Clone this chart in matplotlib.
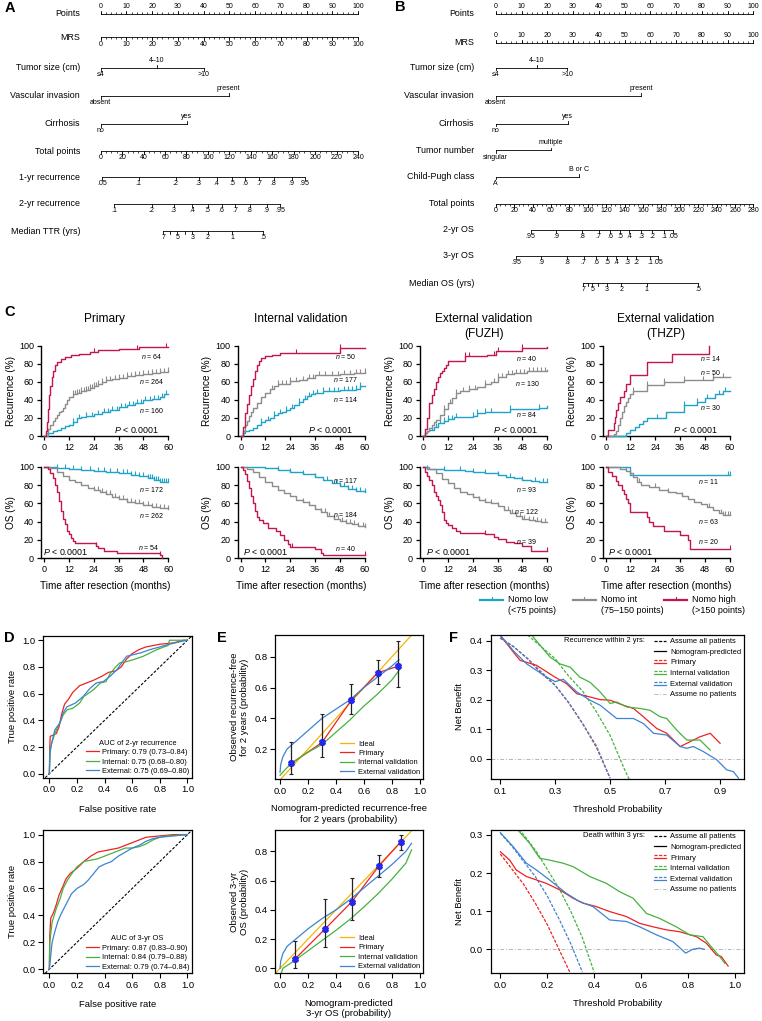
import numpy as np
import matplotlib
matplotlib.use("Agg")
import matplotlib.pyplot as plt
from matplotlib.lines import Line2D
from matplotlib.legend_handler import HandlerBase

plt.rcParams["font.family"] = ["Liberation Sans", "DejaVu Sans"]
plt.rcParams["mathtext.fontset"] = "custom"
plt.rcParams["mathtext.it"] = "Liberation Sans:italic"
plt.rcParams["mathtext.rm"] = "Liberation Sans"
plt.rcParams["axes.linewidth"] = 0.8

# ---------------- nomogram data ----------------
POINTS_TICKS = list(range(0, 101, 10))
TUMOR_LAB = ["≤4", "4–10", ">10"]
VASC_LAB = ["absent", "present"]
CIRR_LAB = ["no", "yes"]
NUM_LAB = ["singular", "multiple"]
CP_LAB = ["A", "B or C"]

A_TUMOR_POS = [0, 21.8, 40.1]
A_VASC_POS = [0, 49.7]
A_CIRR_POS = [0, 33.5]
A_TOTAL = list(range(0, 241, 20))
A_REC1_POS = [1.5, 35.3, 69.8, 91.5, 108.2, 122.4, 134.9, 147.9, 161.2, 178.2, 190.3]
A_REC1_LAB = [".05", ".1", ".2", ".3", ".4", ".5", ".6", ".7", ".8", ".9", ".95"]
A_REC2_POS = [12.4, 47.4, 68.2, 85.2, 99.8, 112.8, 125.6, 138.9, 154.7, 167.4]
A_REC2_LAB = [".1", ".2", ".3", ".4", ".5", ".6", ".7", ".8", ".9", ".95"]
A_TTR_POS = [58.3, 64.8, 71.6, 78.5, 85.6, 99.8, 122.4, 151.6]
A_TTR_LAB = ["7", "", "5", "", "3", "2", "1", ".5"]

B_TUMOR_POS = [0, 15.9, 27.8]
B_VASC_POS = [0, 56.4]
B_CIRR_POS = [0, 27.9]
B_NUM_POS = [0, 21.3]
B_CP_POS = [0, 32.3]
B_TOTAL = list(range(0, 281, 20))
B_OS2_POS = [38, 65.5, 94.2, 111.9, 124.6, 135.4, 145.3, 157.9, 169.6, 182.6, 193]
B_OS3_POS = [22, 49.3, 77.8, 95.6, 109.4, 121, 131.1, 142.7, 152.8, 167.4, 176.4]
B_OS_LAB = [".95", ".9", ".8", ".7", ".6", ".5", ".4", ".3", ".2", ".1", ".05"]
B_MOS_POS = [95.2, 100.3, 105, 111.5, 120.6, 136.5, 164.1, 220.2]
B_MOS_LAB = ["7", "", "5", "", "3", "2", "1", ".5"]

# ---------------- Kaplan-Meier data (month, %) ----------------
PRI_REC_LOW = [(0, 0), (2, 3), (4, 5), (6, 7), (8, 9), (10, 11), (12, 12), (14, 15), (16, 20), (18, 21),
               (20, 22), (24, 24), (28, 27), (32, 29), (36, 32), (40, 34), (44, 37), (48, 40), (52, 41),
               (56, 43), (58, 46), (60, 46)]
PRI_REC_MID = [(0, 0), (1, 3), (2, 8), (3, 12), (4, 17), (5, 20), (6, 23), (7, 26), (8, 28), (9, 31),
               (10, 35), (11, 40), (12, 43), (14, 46), (16, 48), (18, 50), (20, 51), (22, 53), (24, 55),
               (26, 57), (28, 60), (30, 62), (33, 63), (36, 64), (40, 66), (44, 67), (48, 69), (52, 70),
               (56, 71), (60, 72)]
PRI_REC_HIGH = [(0, 0), (1, 5), (1.5, 15), (2, 30), (2.5, 45), (3, 55), (3.5, 65), (4, 72), (5, 78),
                (6, 82), (8, 85), (10, 87), (13, 89), (17, 91), (22, 93), (26, 95), (36, 96), (46, 98),
                (60, 98)]
PRI_OS_LOW = [(0, 100), (6, 99), (12, 98), (18, 97), (24, 96), (30, 95), (36, 93), (42, 91), (46, 90),
              (50, 88), (53, 86), (56, 84), (60, 83)]
PRI_OS_MID = [(0, 100), (3, 99), (6, 95), (9, 90), (12, 86), (15, 83), (18, 80), (21, 77), (24, 75),
              (27, 72), (30, 70), (33, 67), (36, 65), (40, 62), (44, 60), (48, 58), (52, 56), (56, 55),
              (60, 54)]
PRI_OS_HIGH = [(0, 100), (2, 98), (3, 93), (4, 88), (5, 80), (6, 72), (7, 63), (8, 52), (9, 43), (10, 37),
               (11, 30), (12, 26), (13, 22), (14, 19), (15, 17), (25, 13), (26, 11), (29, 8), (35, 5),
               (56, 3), (57, 0)]

INT_REC_LOW = [(0, 0), (1, 3), (2, 5), (4, 7), (6, 9), (8, 12), (10, 15), (12, 18), (14, 20), (16, 23),
               (18, 25), (20, 27), (22, 29), (24, 31), (26, 34), (28, 38), (30, 41), (32, 44), (34, 46),
               (36, 48), (40, 50), (48, 51), (56, 52), (58, 55), (60, 55)]
INT_REC_MID = [(0, 0), (1, 5), (2, 12), (3, 17), (4, 22), (5, 27), (6, 31), (8, 37), (10, 43), (12, 47),
               (14, 52), (16, 55), (18, 57), (20, 58), (24, 61), (28, 62), (32, 64), (36, 67), (42, 67),
               (48, 68), (55, 70), (60, 71)]
INT_REC_HIGH = [(0, 0), (1, 10), (2, 25), (3, 35), (4, 45), (5, 55), (6, 63), (7, 72), (8, 78), (9, 83),
                (10, 86), (12, 88), (15, 90), (19, 92), (48, 97), (60, 97)]
INT_OS_LOW = [(0, 100), (12, 99), (18, 97), (24, 95), (30, 92), (36, 89), (40, 86), (44, 82), (48, 79),
              (52, 76), (56, 74), (60, 72)]
INT_OS_MID = [(0, 100), (3, 98), (6, 95), (9, 89), (12, 84), (15, 79), (18, 75), (21, 71), (24, 68),
              (27, 64), (30, 61), (33, 58), (36, 54), (39, 50), (42, 46), (45, 43), (48, 41), (51, 39),
              (54, 37), (57, 35), (60, 34)]
INT_OS_HIGH = [(0, 100), (1, 97), (2, 92), (3, 85), (4, 77), (5, 68), (6, 60), (7, 52), (8, 45), (9, 42),
               (11, 38), (13, 33), (17, 30), (19, 25), (21, 20), (23, 15), (24, 12), (36, 10), (39, 6),
               (40, 3), (60, 3)]

FUZH_REC_LOW = [(0, 0), (1, 3), (2, 5), (3, 7), (5, 10), (7, 14), (10, 17), (12, 19), (15, 21), (24, 22),
                (26, 25), (30, 27), (42, 30), (56, 31), (60, 33)]
FUZH_REC_MID = [(0, 0), (1, 3), (2, 6), (3, 9), (4, 12), (5, 15), (6, 18), (8, 23), (10, 30), (12, 36),
                (14, 42), (16, 47), (18, 50), (22, 52), (26, 54), (30, 57), (33, 60), (36, 65), (40, 68),
                (44, 70), (50, 72), (60, 73)]
FUZH_REC_HIGH = [(0, 0), (1, 8), (2, 20), (3, 37), (4, 45), (5, 52), (6, 60), (7, 65), (8, 70), (9, 72),
                 (10, 75), (11, 78), (12, 83), (20, 88), (31, 90), (35, 94), (48, 97), (60, 98)]
FUZH_OS_LOW = [(0, 100), (2, 98), (10, 97), (20, 96), (24, 95), (30, 93), (36, 91), (40, 89), (44, 88),
               (48, 86), (52, 85), (56, 84), (60, 83)]
FUZH_OS_MID = [(0, 100), (3, 98), (6, 93), (9, 87), (12, 82), (15, 77), (18, 73), (21, 70), (24, 67),
               (27, 64), (30, 62), (33, 60), (36, 57), (39, 53), (42, 49), (45, 46), (48, 43), (51, 42),
               (54, 41), (57, 40), (60, 40)]
FUZH_OS_HIGH = [(0, 100), (1, 95), (2, 90), (3, 86), (4, 80), (5, 72), (6, 68), (7, 64), (8, 58), (9, 50),
                (10, 42), (11, 39), (12, 36), (14, 33), (16, 30), (18, 28), (30, 26), (34, 23), (36, 21),
                (40, 18), (44, 16), (48, 13), (52, 8), (60, 8)]

THZP_REC_LOW = [(0, 0), (10, 3), (12, 7), (14, 10), (16, 13), (18, 17), (20, 20), (29, 27), (38, 34),
                (44, 38), (48, 42), (53, 46), (57, 50), (60, 50)]
THZP_REC_MID = [(0, 0), (4, 2), (5, 6), (6, 12), (7, 20), (8, 27), (9, 33), (10, 38), (11, 42), (12, 46),
                (13, 50), (20, 56), (28, 60), (38, 62), (52, 65), (60, 65)]
THZP_REC_HIGH = [(0, 0), (1, 7), (4, 14), (4.5, 21), (5, 29), (6, 36), (7, 43), (9, 50), (10, 57),
                 (12, 67), (20, 82), (32, 91), (50, 100)]
THZP_OS_LOW = [(0, 100), (12, 91), (60, 91)]
THZP_OS_MID = [(0, 100), (7, 98), (10, 96), (12, 93), (13, 89), (15, 84), (17, 80), (21, 78), (26, 75),
               (30, 73), (34, 71), (37, 68), (40, 65), (43, 62), (46, 59), (49, 56), (52, 53), (55, 49),
               (57, 47), (60, 47)]
THZP_OS_HIGH = [(0, 100), (1, 95), (3, 90), (5, 85), (6, 80), (8, 75), (9, 70), (10, 65), (11, 60),
                (12, 50), (20, 45), (21, 40), (23, 35), (28, 30), (36, 25), (40, 20), (41, 10), (60, 10)]

# censored times (months)
PRI_REC_CENS = ([14, 17, 20, 23, 26, 29, 31, 33, 35, 37, 39, 41, 43, 45, 47, 49, 51, 53, 55, 57, 59],
                [14, 15, 16, 17, 18, 19, 20, 21, 22, 23, 24, 25, 26, 28, 30, 32, 34, 36, 38, 40, 42, 44,
                 46, 48, 50, 52, 54, 56, 58, 60],
                [24, 45, 59])
PRI_OS_CENS = ([6, 10, 14, 18, 22, 26, 29, 32, 35, 38, 40, 42, 44, 46, 48, 50, 51, 52, 53, 54, 55, 56,
                57, 58, 59, 60],
               [24, 26, 28, 30, 32, 34, 36, 38, 40, 42, 44, 46, 48, 50, 52, 54, 56, 58, 60],
               [25, 56])
INT_REC_CENS = ([10, 13, 16, 19, 22, 25, 28, 31, 33, 35, 37, 40, 43, 45, 47, 50, 52, 54, 56, 58],
                [15, 18, 20, 22, 24, 27, 30, 33, 35, 38, 41, 44, 47, 50, 53, 56, 58, 60],
                [27, 48])
INT_OS_CENS = ([18, 24, 30, 36, 42, 46, 48, 50, 52, 54, 56, 58, 60],
               [30, 33, 36, 39, 41, 43, 45, 47, 49, 51, 53, 55, 57, 59, 60],
               [25, 60])
FUZH_REC_CENS = ([4, 6, 8, 10, 12, 14, 16, 24, 26, 30, 33, 42, 56],
                 [10, 13, 16, 19, 22, 25, 30, 34, 36, 38, 41, 43, 45, 47, 49, 51, 53, 55, 57, 59],
                 [20, 22, 34, 36, 48])
FUZH_OS_CENS = ([2, 10, 18, 24, 30, 36, 42, 48, 54, 58, 60],
                [24, 27, 30, 33, 36, 39, 41, 43, 45, 47, 49, 51, 53, 55, 57, 59],
                [30, 60])
THZP_REC_CENS = ([25, 38, 44, 49, 55, 58], [13, 20, 28, 38, 47, 52, 57], [])
THZP_OS_CENS = ([59, 60], [10, 16, 24, 30, 37, 50, 56, 57, 58, 59, 60], [60])

# patients per risk group (low, int, high)
PRI_N = ([160, 264, 64], [172, 262, 54])
INT_N = ([114, 177, 50], [117, 184, 40])
FUZH_N = ([84, 130, 40], [93, 122, 39])
THZP_N = ([30, 50, 14], [11, 63, 20])

KM_TITLES = [["Primary"], ["Internal validation"], ["External validation", "(FUZH)"],
             ["External validation", "(THZP)"]]
GROUP_NAMES = [("Nomo low", "(<75 points)"), ("Nomo int", "(75–150 points)"),
               ("Nomo high", "(>150 points)")]

# ---------------- ROC data (FPR, TPR) ----------------
D_REC_PRI = [(0, 0), (0.003, 0.2), (0.006, 0.28), (0.05, 0.3), (0.07, 0.35), (0.09, 0.45), (0.11, 0.52),
             (0.14, 0.56), (0.17, 0.61), (0.22, 0.66), (0.27, 0.68), (0.32, 0.7), (0.38, 0.73),
             (0.43, 0.76), (0.48, 0.77), (0.52, 0.8), (0.56, 0.86), (0.6, 0.9), (0.65, 0.93), (0.7, 0.95),
             (0.8, 0.97), (0.9, 0.98), (0.97, 1.0), (1, 1)]
D_REC_INT = [(0, 0), (0.005, 0.18), (0.02, 0.24), (0.04, 0.3), (0.06, 0.35), (0.08, 0.39), (0.1, 0.44),
             (0.13, 0.48), (0.17, 0.49), (0.22, 0.53), (0.25, 0.58), (0.28, 0.6), (0.32, 0.63),
             (0.37, 0.68), (0.41, 0.69), (0.44, 0.75), (0.48, 0.8), (0.51, 0.83), (0.56, 0.84),
             (0.61, 0.855), (0.68, 0.88), (0.74, 0.91), (0.78, 0.93), (0.83, 0.95), (0.86, 0.96),
             (0.87, 1.0), (1, 1)]
D_REC_EXT = [(0, 0), (0.003, 0.1), (0.005, 0.155), (0.017, 0.23), (0.04, 0.33), (0.077, 0.38),
             (0.1, 0.455), (0.126, 0.5), (0.19, 0.53), (0.246, 0.58), (0.295, 0.64), (0.34, 0.68),
             (0.39, 0.69), (0.44, 0.73), (0.49, 0.78), (0.53, 0.84), (0.56, 0.88), (0.66, 0.905),
             (0.73, 0.93), (0.8, 0.95), (0.87, 0.97), (0.95, 0.99), (1, 1)]
D_OS_PRI = [(0, 0), (0.003, 0.25), (0.01, 0.38), (0.03, 0.42), (0.05, 0.48), (0.07, 0.55), (0.1, 0.62),
            (0.12, 0.67), (0.15, 0.71), (0.2, 0.75), (0.25, 0.8), (0.3, 0.84), (0.35, 0.87), (0.4, 0.88),
            (0.45, 0.89), (0.5, 0.9), (0.55, 0.92), (0.6, 0.94), (0.65, 0.96), (0.7, 0.98), (0.8, 0.99),
            (0.9, 1.0), (1, 1)]
D_OS_INT = [(0, 0), (0.003, 0.2), (0.02, 0.35), (0.05, 0.45), (0.08, 0.53), (0.1, 0.6), (0.13, 0.66),
            (0.17, 0.72), (0.2, 0.76), (0.25, 0.8), (0.3, 0.81), (0.35, 0.82), (0.4, 0.84), (0.45, 0.86),
            (0.5, 0.88), (0.55, 0.9), (0.6, 0.9), (0.65, 0.91), (0.7, 0.93), (0.75, 0.96), (0.8, 0.98),
            (0.85, 0.99), (1, 1)]
D_OS_EXT = [(0, 0), (0.01, 0.1), (0.02, 0.2), (0.04, 0.28), (0.06, 0.35), (0.08, 0.4), (0.1, 0.44),
            (0.13, 0.5), (0.16, 0.56), (0.2, 0.6), (0.25, 0.63), (0.28, 0.66), (0.32, 0.71), (0.36, 0.76),
            (0.4, 0.78), (0.45, 0.8), (0.5, 0.84), (0.55, 0.87), (0.6, 0.9), (0.65, 0.92), (0.7, 0.95),
            (0.75, 0.97), (0.8, 0.98), (0.9, 0.99), (1, 1)]
D_REC_LABELS = ["Primary: 0.79 (0.73–0.84)", "Internal: 0.75 (0.68–0.80)", "External: 0.75 (0.69–0.80)"]
D_OS_LABELS = ["Primary: 0.87 (0.83–0.90)", "Internal: 0.84 (0.79–0.88)", "External: 0.79 (0.74–0.84)"]

# ---------------- calibration data ----------------
E_IDEAL = [-0.05, 1.0]
E_REC_X = [0.08, 0.30, 0.51, 0.70, 0.845]
E_REC_Y = [0.107, 0.243, 0.518, 0.696, 0.739]
E_REC_LO = [0.038, 0.146, 0.427, 0.622, 0.605]
E_REC_HI = [0.243, 0.425, 0.62, 0.776, 0.90]
E_REC_INT = [(0.0, 0.03), (0.05, 0.08), (0.1, 0.12), (0.2, 0.18), (0.3, 0.23), (0.4, 0.31), (0.5, 0.39),
             (0.6, 0.48), (0.7, 0.56), (0.8, 0.65), (0.85, 0.71)]
E_REC_EXT = [(0.0, 0.05), (0.005, 0.1), (0.02, 0.15), (0.05, 0.2), (0.1, 0.24), (0.15, 0.28), (0.2, 0.32),
             (0.3, 0.4), (0.4, 0.46), (0.5, 0.52), (0.6, 0.6), (0.7, 0.67), (0.8, 0.74), (0.85, 0.78)]
E_OS_X = [0.107, 0.324, 0.514, 0.705, 0.862]
E_OS_Y = [0.064, 0.271, 0.456, 0.698, 0.864]
E_OS_LO = [0.0, 0.148, 0.33, 0.625, 0.811]
E_OS_HI = [0.187, 0.474, 0.62, 0.777, 0.914]
E_OS_INT = [(0.01, -0.03), (0.02, 0.0), (0.1, 0.05), (0.2, 0.12), (0.3, 0.19), (0.4, 0.26), (0.5, 0.335),
            (0.6, 0.42), (0.7, 0.51), (0.8, 0.61), (0.9, 0.72), (0.94, 0.81)]
E_OS_EXT = [(0.0, 0.0), (0.005, 0.05), (0.02, 0.1), (0.05, 0.15), (0.1, 0.19), (0.2, 0.27), (0.3, 0.34),
            (0.4, 0.4), (0.5, 0.47), (0.6, 0.55), (0.7, 0.63), (0.8, 0.71), (0.9, 0.8), (0.94, 0.855)]

# ---------------- decision curve data (threshold, net benefit) ----------------
F_REC_ALL_PRI = [(0.1, 0.41), (0.15, 0.38), (0.2, 0.34), (0.25, 0.29), (0.3, 0.25), (0.35, 0.19),
                 (0.4, 0.12), (0.45, 0.04), (0.5, -0.065)]
F_REC_ALL_EXT = [(0.1, 0.41), (0.15, 0.38), (0.2, 0.34), (0.25, 0.295), (0.3, 0.25), (0.35, 0.19),
                 (0.4, 0.12), (0.45, 0.045), (0.5, -0.065)]
F_REC_ALL_INT = [(0.2, 0.42), (0.25, 0.38), (0.3, 0.34), (0.35, 0.28), (0.4, 0.23), (0.45, 0.16),
                 (0.5, 0.08), (0.55, -0.03), (0.57, -0.07)]
F_REC_PRI = [(0.1, 0.42), (0.15, 0.36), (0.173, 0.334), (0.233, 0.317), (0.3, 0.277), (0.342, 0.255),
             (0.379, 0.221), (0.427, 0.21), (0.464, 0.201), (0.5, 0.199), (0.548, 0.182), (0.585, 0.171),
             (0.621, 0.143), (0.67, 0.103), (0.706, 0.087), (0.755, 0.042), (0.79, 0.058), (0.827, 0.075),
             (0.864, 0.087), (0.9, 0.053)]
F_REC_INT = [(0.215, 0.42), (0.25, 0.38), (0.282, 0.345), (0.318, 0.322), (0.355, 0.311), (0.39, 0.277),
             (0.427, 0.26), (0.464, 0.227), (0.5, 0.188), (0.524, 0.193), (0.561, 0.176), (0.609, 0.171),
             (0.645, 0.165), (0.682, 0.143), (0.706, 0.137), (0.742, 0.098), (0.779, 0.064),
             (0.827, 0.064), (0.864, 0.03)]
F_REC_EXT = [(0.1, 0.42), (0.15, 0.365), (0.197, 0.322), (0.27, 0.277), (0.3, 0.262), (0.33, 0.27),
             (0.379, 0.227), (0.427, 0.199), (0.464, 0.182), (0.524, 0.137), (0.585, 0.137), (0.621, 0.12),
             (0.658, 0.087), (0.706, 0.081), (0.755, 0.042), (0.779, 0.036), (0.803, 0.042),
             (0.839, 0.025), (0.888, -0.003), (0.924, -0.037), (0.948, -0.043), (0.967, -0.065)]
F_OS_ALL_PRI = [(0.0, 0.25), (0.05, 0.21), (0.1, 0.17), (0.15, 0.12), (0.2, 0.065), (0.25, 0.0),
                (0.3, -0.065)]
F_OS_ALL_EXT = [(0.0, 0.305), (0.05, 0.27), (0.1, 0.23), (0.15, 0.19), (0.2, 0.14), (0.25, 0.08),
                (0.3, 0.015), (0.35, -0.06)]
F_OS_ALL_INT = [(0.08, 0.315), (0.1, 0.3), (0.15, 0.26), (0.2, 0.21), (0.25, 0.16), (0.3, 0.1),
                (0.35, 0.03), (0.4, -0.06)]
F_OS_PRI = [(0.0, 0.256), (0.04, 0.234), (0.068, 0.208), (0.111, 0.191), (0.154, 0.182), (0.196, 0.173),
            (0.253, 0.156), (0.31, 0.134), (0.353, 0.121), (0.409, 0.112), (0.466, 0.099), (0.537, 0.086),
            (0.594, 0.068), (0.651, 0.059), (0.708, 0.051), (0.765, 0.046), (0.836, 0.033),
            (0.878, 0.016), (0.921, -0.015), (0.942, -0.019), (0.971, -0.044)]
F_OS_INT = [(0.075, 0.313), (0.125, 0.278), (0.168, 0.239), (0.21, 0.234), (0.267, 0.226), (0.31, 0.217),
            (0.381, 0.191), (0.452, 0.173), (0.509, 0.151), (0.566, 0.134), (0.623, 0.094),
            (0.679, 0.081), (0.75, 0.059), (0.807, 0.038), (0.864, 0.033), (0.893, 0.011),
            (0.935, -0.019), (0.957, -0.037)]
F_OS_EXT = [(0.0, 0.306), (0.054, 0.27), (0.111, 0.226), (0.154, 0.208), (0.21, 0.182), (0.281, 0.147),
            (0.338, 0.125), (0.395, 0.112), (0.466, 0.077), (0.537, 0.073), (0.594, 0.059),
            (0.665, 0.038), (0.736, 0.02), (0.79, -0.01), (0.82, 0.0), (0.85, 0.003), (0.87, 0.0)]

# ---------------- colours ----------------
C_LOW, C_MID, C_HIGH = "#1fa3c8", "#8c8c8c", "#c3174b"
C_RED, C_GREEN, C_BLUE, C_GOLD = "#ee2222", "#46b23e", "#3d83d0", "#f2b705"

W, H = 762, 1021
fig = plt.figure(figsize=(W / 100, H / 100), dpi=100)


def axes_px(left, top, right, bottom):
    return fig.add_axes([left / W, 1 - bottom / H, (right - left) / W, (bottom - top) / H])


def ftext(x, y, s, **kw):
    fig.text(x / W, 1 - y / H, s, **kw)


def xy(pairs):
    a = np.array(pairs, dtype=float)
    return a[:, 0], a[:, 1]


# ---------------- panels A and B: nomograms ----------------
def nomo_row(ax, label, y, pos, labs, sides, label_x, minor=None, minor_side="down"):
    pos = np.asarray(pos, float)
    ax.plot([pos.min(), pos.max()], [y, y], color="black", lw=0.6)
    if minor is not None:
        d = -1 if minor_side == "up" else 1
        ax.vlines(minor, y, y + d * 1.6, color="black", lw=0.5)
    if isinstance(sides, str):
        sides = [sides] * len(pos)
    for p, lab, s in zip(pos, labs, sides):
        d = -1 if s == "up" else 1
        ax.plot([p, p], [y, y + d * 2.6], color="black", lw=0.6)
        if lab:
            ax.text(p, y + d * (4.0 if s == "up" else 3.4), lab, ha="center",
                    va="bottom" if s == "up" else "top", fontsize=5)
    ax.text(label_x, y, label, ha="right", va="center", fontsize=6.4)


def point_labels(vals):
    return [str(v) for v in vals]


axA = axes_px(0, 0, 380, 300)
axA.set_xlim(-39.14, 108.55)
axA.set_ylim(300, 0)
axA.axis("off")
sA = 100 / 240
nomo_row(axA, "Points", 14, POINTS_TICKS, point_labels(POINTS_TICKS), "up", -8,
         minor=np.arange(0, 101, 2), minor_side="up")
nomo_row(axA, "MRS", 37.3, POINTS_TICKS, point_labels(POINTS_TICKS), "down", -8,
         minor=np.arange(0, 101, 2))
nomo_row(axA, "Tumor size (cm)", 68, A_TUMOR_POS, TUMOR_LAB, ["down", "up", "down"], -8)
nomo_row(axA, "Vascular invasion", 96, A_VASC_POS, VASC_LAB, ["down", "up"], -8)
nomo_row(axA, "Cirrhosis", 124, A_CIRR_POS, CIRR_LAB, ["down", "up"], -8)
nomo_row(axA, "Total points", 151, np.array(A_TOTAL) * sA, point_labels(A_TOTAL), "down", -8,
         minor=np.arange(0, 241, 5) * sA)
nomo_row(axA, "1-yr recurrence", 177, np.array(A_REC1_POS) * sA, A_REC1_LAB, "down", -8)
nomo_row(axA, "2-yr recurrence", 204, np.array(A_REC2_POS) * sA, A_REC2_LAB, "down", -8)
nomo_row(axA, "Median TTR (yrs)", 231, np.array(A_TTR_POS) * sA, A_TTR_LAB, "down", -8)

axB = axes_px(380, 0, 762, 300)
axB.set_xlim(-44.9, 103.3)
axB.set_ylim(300, 0)
axB.axis("off")
sB = 100 / 280
nomo_row(axB, "Points", 14, POINTS_TICKS, point_labels(POINTS_TICKS), "up", -8.4,
         minor=np.arange(0, 101, 2), minor_side="up")
nomo_row(axB, "MRS", 42.7, POINTS_TICKS, point_labels(POINTS_TICKS), "up", -8.4,
         minor=np.arange(0, 101, 2), minor_side="up")
nomo_row(axB, "Tumor size (cm)", 67.7, B_TUMOR_POS, TUMOR_LAB, ["down", "up", "down"], -8.4)
nomo_row(axB, "Vascular invasion", 96, B_VASC_POS, VASC_LAB, ["down", "up"], -8.4)
nomo_row(axB, "Cirrhosis", 123.7, B_CIRR_POS, CIRR_LAB, ["down", "up"], -8.4)
nomo_row(axB, "Tumor number", 150.3, B_NUM_POS, NUM_LAB, ["down", "up"], -8.4)
nomo_row(axB, "Child-Pugh class", 176.7, B_CP_POS, CP_LAB, ["down", "up"], -8.4)
nomo_row(axB, "Total points", 204, np.array(B_TOTAL) * sB, point_labels(B_TOTAL), "down", -8.4,
         minor=np.arange(0, 281, 5) * sB)
nomo_row(axB, "2-yr OS", 230, np.array(B_OS2_POS) * sB, B_OS_LAB, "down", -8.4)
nomo_row(axB, "3-yr OS", 256, np.array(B_OS3_POS) * sB, B_OS_LAB, "down", -8.4)
nomo_row(axB, "Median OS (yrs)", 283, np.array(B_MOS_POS) * sB, B_MOS_LAB, "down", -8.4)

# ---------------- panel C: Kaplan-Meier ----------------
km_rec = [(PRI_REC_LOW, PRI_REC_MID, PRI_REC_HIGH), (INT_REC_LOW, INT_REC_MID, INT_REC_HIGH),
          (FUZH_REC_LOW, FUZH_REC_MID, FUZH_REC_HIGH), (THZP_REC_LOW, THZP_REC_MID, THZP_REC_HIGH)]
km_os = [(PRI_OS_LOW, PRI_OS_MID, PRI_OS_HIGH), (INT_OS_LOW, INT_OS_MID, INT_OS_HIGH),
         (FUZH_OS_LOW, FUZH_OS_MID, FUZH_OS_HIGH), (THZP_OS_LOW, THZP_OS_MID, THZP_OS_HIGH)]
km_rec_cens = [PRI_REC_CENS, INT_REC_CENS, FUZH_REC_CENS, THZP_REC_CENS]
km_os_cens = [PRI_OS_CENS, INT_OS_CENS, FUZH_OS_CENS, THZP_OS_CENS]
km_n = [PRI_N, INT_N, FUZH_N, THZP_N]

# label placement (month, %) for low / int / high, per column
n_pos_rec = [[(52, 28), (52, 60), (52, 88)], [(51, 40), (51, 62), (51, 88)],
             [(50, 24), (50.5, 58), (50, 86)], [(51, 31), (51, 70), (51, 86)]]
n_pos_os = [[(52, 75.5), (52, 46.5), (50.5, 11.3)], [(51, 85.7), (51, 48), (51, 10.6)],
            [(50, 75.8), (50, 51.6), (50, 18)], [(50, 84.6), (50, 40), (50, 18)]]
p_pos_rec = [(44.6, 6.6), (43.6, 6.6), (44.5, 6.6), (43.3, 6.6)]
p_pos_os = [(10.2, 7), (12.2, 7), (12.1, 7), (12.2, 7)]

col_x0 = [44.3, 240.7, 423.3, 605.7]
mo_px = 2.065
colors = [C_LOW, C_MID, C_HIGH]


def km_axes(ax):
    ax.set_xlim(-1.5, 60)
    ax.set_ylim(0, 100)
    ax.spines["top"].set_visible(False)
    ax.spines["right"].set_visible(False)
    ax.spines["left"].set_linewidth(1.0)
    ax.spines["bottom"].set_linewidth(1.0)
    ax.set_xticks([0, 12, 24, 36, 48, 60])
    ax.set_yticks(range(0, 101, 20))
    ax.tick_params(direction="out", length=3.2, width=0.9, labelsize=6.5, pad=2)
    ax.patch.set_alpha(0)


def km_draw(ax, curves, cens, nvals, npos, ppos):
    for curve, cen, col, nv, (nx, ny) in zip(curves, cens, colors, nvals, npos):
        t, v = xy(curve)
        ax.step(t, v, where="post", color=col, lw=1.0, clip_on=False, zorder=3)
        if len(cen):
            c = np.asarray(cen, float)
            idx = np.searchsorted(t, c, side="right") - 1
            ax.plot(c, v[idx], ls="none", marker=2, ms=3.0, mew=0.8, color=col,
                    clip_on=False, zorder=3)
        ax.text(nx, ny, "$n$ = %d" % nv, fontsize=5, ha="center", va="center")
    ax.text(ppos[0], ppos[1], "$P$ < 0.0001", fontsize=6.4, ha="center", va="center")


for i in range(4):
    x0 = col_x0[i]
    left, right = x0 - 1.5 * mo_px, x0 + 60 * mo_px
    cx = (left + right) / 2
    for j, line in enumerate(KM_TITLES[i]):
        ftext(cx, 319 + 15 * j, line, fontsize=8.6, ha="center", va="center")
    ax1 = axes_px(left, 345.5, right, 436)
    km_axes(ax1)
    km_draw(ax1, km_rec[i], km_rec_cens[i], km_n[i][0], n_pos_rec[i], p_pos_rec[i])
    ax2 = axes_px(left, 467, right, 558)
    km_axes(ax2)
    km_draw(ax2, km_os[i], km_os_cens[i], km_n[i][1], n_pos_os[i], p_pos_os[i])
    ftext(x0 - 33.5, 390.7, "Recurrence (%)", fontsize=7.2, rotation=90, ha="center", va="center")
    ftext(x0 - 33.5, 512.5, "OS (%)", fontsize=7.2, rotation=90, ha="center", va="center")
    ftext(cx, 586, "Time after resection (months)", fontsize=7.2, ha="center", va="center")

# legend of panel C
for (name, rng), col, lx in zip(GROUP_NAMES, colors, [480, 572.7, 664.3]):
    fig.add_artist(Line2D([lx / W, (lx + 23) / W], [1 - 600 / H] * 2, color=col, lw=1.6))
    fig.add_artist(Line2D([(lx + 11.5) / W] * 2, [1 - 600 / H, 1 - 596.5 / H], color=col, lw=0.8))
    ftext(lx + 28, 600, name, fontsize=6.5, ha="left", va="center")
    ftext(lx + 28, 610.7, rng, fontsize=6.5, ha="left", va="center")


# ---------------- panels D, E, F ----------------
def box_axes(ax, xlim, ylim, xticks, yticks, xfmt="%.1f"):
    ax.set_xlim(*xlim)
    ax.set_ylim(*ylim)
    ax.set_xticks(xticks, [xfmt % v for v in xticks])
    ax.set_yticks(yticks, ["%.1f" % v for v in yticks])
    ax.tick_params(direction="out", length=3.4, width=0.8, labelsize=6.8, pad=2)
    for s in ax.spines.values():
        s.set_linewidth(0.9)


ticks01 = [0.0, 0.2, 0.4, 0.6, 0.8, 1.0]

# D: ROC
for top, bot, curves, labels, title in [(635.7, 777.7, (D_REC_PRI, D_REC_INT, D_REC_EXT), D_REC_LABELS,
                                         "AUC of 2-yr recurrence"),
                                        (830, 973.3, (D_OS_PRI, D_OS_INT, D_OS_EXT), D_OS_LABELS,
                                         "AUC of 3-yr OS")]:
    ax = axes_px(43, top, 191.7, bot)
    box_axes(ax, (-0.046, 1.031), (-0.03, 1.034), ticks01, ticks01)
    ax.axline((0, 0), slope=1, color="black", lw=0.8, ls=(0, (2.5, 1.5)))
    handles = []
    for curve, col in zip(curves, [C_RED, C_GREEN, C_BLUE]):
        fx_, ty_ = xy(curve)
        handles += ax.plot(fx_, ty_, color=col, lw=0.9)
    ax.legend(handles, labels, title=title, loc="lower right", fontsize=5.4, title_fontsize=5.4,
              frameon=False, handlelength=1.7, handletextpad=0.4, labelspacing=0.3,
              borderaxespad=0.15, borderpad=0.2)
    ftext(13, (top + bot) / 2, "True positive rate", fontsize=6.8, rotation=90, ha="center",
          va="center")
    ftext(117.3, bot + 31.5, "False positive rate", fontsize=6.8, ha="center", va="center")

# E: calibration
e_sets = [(635, 779, (0.006, 0.941), [0.2, 0.4, 0.6, 0.8], E_REC_X, E_REC_Y, E_REC_LO, E_REC_HI,
           E_REC_INT, E_REC_EXT, "Observed recurrence-free\nfor 2 years (probability)",
           "Nomogram-predicted recurrence-free\nfor 2 years (probability)"),
          (830, 973.3, (-0.034, 0.946), [0.0, 0.2, 0.4, 0.6, 0.8], E_OS_X, E_OS_Y, E_OS_LO, E_OS_HI,
           E_OS_INT, E_OS_EXT, "Observed 3-yr\nOS (probability)",
           "Nomogram-predicted\n3-yr OS (probability)")]
for top, bot, ylim, yt, ex, ey, elo, ehi, eint, eext, ylab, xlab in e_sets:
    ax = axes_px(275, top, 423.3, bot)
    box_axes(ax, (-0.036, 1.024), ylim, ticks01, yt)
    h_ideal, = ax.plot(E_IDEAL, E_IDEAL, color=C_GOLD, lw=0.9)
    h_pri, = ax.plot(ex, ey, color=C_RED, lw=0.9)
    ix, iy = xy(eint)
    h_int, = ax.plot(ix, iy, color=C_GREEN, lw=0.9)
    bx, by = xy(eext)
    h_ext, = ax.plot(bx, by, color=C_BLUE, lw=0.9)
    ey_a = np.array(ey)
    ax.errorbar(ex, ey, yerr=[ey_a - np.array(elo), np.array(ehi) - ey_a], fmt="none",
                ecolor="#222222", elinewidth=0.9, capsize=1.6, capthick=0.8, zorder=4)
    ax.plot(ex, ey, ls="none", marker="X", ms=4.2, mfc="#2626f0", mec="#2626f0", zorder=5)
    ax.legend([h_ideal, h_pri, h_int, h_ext],
              ["Ideal", "Primary", "Internal validation", "External validation"],
              loc="lower right", fontsize=5.4, frameon=False, handlelength=1.9, handletextpad=0.5,
              labelspacing=0.3, borderaxespad=0.1, borderpad=0.3)
    ftext(239.5, (top + bot) / 2, ylab, fontsize=6.8, rotation=90, ha="center", va="center",
          linespacing=1.1)
    ftext(349, bot + 35, xlab, fontsize=6.8, ha="center", va="center", linespacing=1.15)


# F: decision curves
class DoubleLine(HandlerBase):
    def create_artists(self, legend, orig_handle, xdescent, ydescent, width, height, fontsize, trans):
        c = orig_handle.get_color()
        y1 = -ydescent + height * 0.78
        y2 = -ydescent + height * 0.22
        l1 = Line2D([-xdescent, width - xdescent], [y1, y1], color=c, lw=0.9, ls=(0, (2.5, 1.2)),
                    transform=trans)
        l2 = Line2D([-xdescent, width - xdescent], [y2, y2], color=c, lw=0.9, transform=trans)
        return [l1, l2]


f_sets = [(635, 779, (0.066, 0.988), (-0.068, 0.42), [0.1, 0.3, 0.5, 0.7, 0.9], [0.0, 0.1, 0.2, 0.3, 0.4],
           (F_REC_ALL_PRI, F_REC_ALL_INT, F_REC_ALL_EXT), (F_REC_PRI, F_REC_INT, F_REC_EXT),
           "Recurrence within 2 yrs:"),
          (830, 973.3, (-0.041, 1.04), (-0.063, 0.313), ticks01, [0.0, 0.1, 0.2, 0.3],
           (F_OS_ALL_PRI, F_OS_ALL_INT, F_OS_ALL_EXT), (F_OS_PRI, F_OS_INT, F_OS_EXT),
           "Death within 3 yrs:")]
for top, bot, xlim, ylim, xt, yt, alls, models, ltitle in f_sets:
    ax = axes_px(490.7, top, 744.3, bot)
    box_axes(ax, xlim, ylim, xt, yt)
    h_none = ax.axhline(0, color="#b5b5b5", lw=0.7, ls=(0, (4, 2, 1, 2)))
    for curve, col in zip(alls, [C_RED, C_GREEN, C_BLUE]):
        px_, py_ = xy(curve)
        ax.plot(px_, py_, color=col, lw=0.9, ls=(0, (2.5, 1.2)))
    hs = []
    for curve, col in zip(models, [C_RED, C_GREEN, C_BLUE]):
        px_, py_ = xy(curve)
        hs += ax.plot(px_, py_, color=col, lw=0.9)
    h_all = Line2D([], [], color="black", lw=0.9, ls=(0, (2.5, 1.2)))
    h_nom = Line2D([], [], color="black", lw=0.9)
    hmap = {h: DoubleLine() for h in hs}
    ax.legend([h_all, h_nom] + hs + [h_none],
              ["Assume all patients", "Nomogram-predicted", "Primary", "Internal validation",
               "External validation", "Assume no patients"],
              handler_map=hmap, loc="upper right", fontsize=5.4, frameon=False, handlelength=1.5,
              handletextpad=0.6, labelspacing=0.45, borderaxespad=0.2, borderpad=0.2)
    ax.text(0.608, 0.96, ltitle, transform=ax.transAxes, fontsize=5.4, ha="right", va="center")
    ftext(459, (top + bot) / 2, "Net Benefit", fontsize=6.8, rotation=90, ha="center", va="center")
    ftext(617.5, bot + 30, "Threshold Probability", fontsize=6.8, ha="center", va="center")

# panel letters
for letter, x, y in [("A", 9.5, 7.5), ("B", 400, 7), ("C", 9.5, 312), ("D", 9.5, 638),
                     ("E", 222, 638), ("F", 453.5, 638)]:
    ftext(x, y, letter, fontsize=10.5, fontweight="bold", ha="center", va="center")

fig.savefig("out.png", dpi=100)
